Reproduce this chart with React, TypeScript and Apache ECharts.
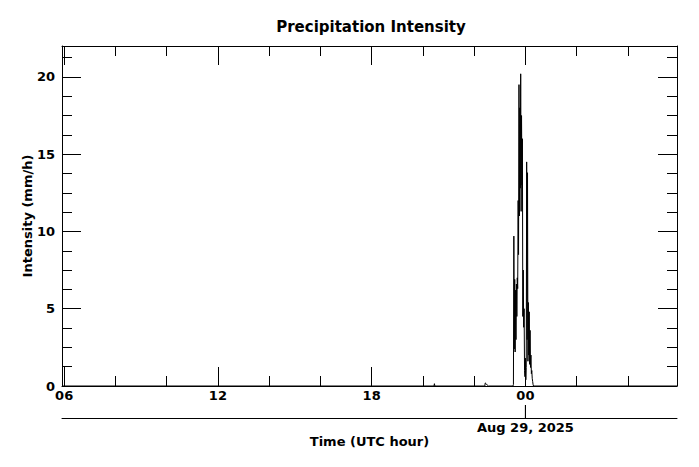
import { useEffect, useRef } from 'react';
import * as echarts from 'echarts';

const FONT = 'DejaVu Sans';

// window shown: 24 h ending at 05:55 UTC on Aug 29
const dayStart = '2025-08-28T00:00';
const windowStart = '2025-08-28T05:55';
const windowEnd = '2025-08-29T05:55';

// tick positions in hours since 00 UTC Aug 28
const majorHours = [6, 12, 18, 24];
const minorHours = [8, 10, 14, 16, 20, 22, 26, 28];
const dateTickHours = [24];
const dateLabel = 'Aug 29, 2025';

// 1-minute precipitation intensity (mm/h); minutes not listed are 0
const sampleTimes = [
  '2025-08-28T05:55',
  '2025-08-28T20:26', '2025-08-28T20:27', '2025-08-28T20:28',
  '2025-08-28T22:25', '2025-08-28T22:26', '2025-08-28T22:28', '2025-08-28T22:31', '2025-08-28T22:33',
  '2025-08-28T23:31', '2025-08-28T23:32', '2025-08-28T23:33', '2025-08-28T23:34', '2025-08-28T23:35',
  '2025-08-28T23:36', '2025-08-28T23:37', '2025-08-28T23:38', '2025-08-28T23:39', '2025-08-28T23:40',
  '2025-08-28T23:41', '2025-08-28T23:42', '2025-08-28T23:43', '2025-08-28T23:44', '2025-08-28T23:45',
  '2025-08-28T23:46', '2025-08-28T23:47', '2025-08-28T23:48', '2025-08-28T23:49', '2025-08-28T23:50',
  '2025-08-28T23:51', '2025-08-28T23:52', '2025-08-28T23:53', '2025-08-28T23:54', '2025-08-28T23:55',
  '2025-08-28T23:56', '2025-08-28T23:57', '2025-08-28T23:58', '2025-08-28T23:59', '2025-08-29T00:00',
  '2025-08-29T00:01', '2025-08-29T00:02', '2025-08-29T00:03', '2025-08-29T00:04', '2025-08-29T00:05',
  '2025-08-29T00:06', '2025-08-29T00:07', '2025-08-29T00:08', '2025-08-29T00:09', '2025-08-29T00:10',
  '2025-08-29T00:11', '2025-08-29T00:12', '2025-08-29T00:13', '2025-08-29T00:14', '2025-08-29T00:15',
  '2025-08-29T00:16', '2025-08-29T00:17', '2025-08-29T00:18', '2025-08-29T00:19',
  '2025-08-29T05:55',
];
const sampleValues = [
  0,
  0, 0.15, 0,
  0, 0.2, 0.15, 0.05, 0,
  0, 0.1, 9.7, 2.4, 6.9,
  2.2, 6.2, 3.0, 6.6, 4.5,
  7.0, 6.3, 12.0, 8.5, 19.5,
  11.0, 18.0, 12.8, 20.2, 11.3,
  17.5, 13.0, 16.0, 4.5, 7.5,
  3.8, 5.0, 1.0, 0.6, 1.8,
  0.4, 1.2, 14.5, 3.0, 13.8,
  1.6, 5.4, 2.0, 4.8, 1.4,
  3.6, 1.2, 2.0, 0.8, 1.0,
  0.5, 0.3, 0.1, 0,
  0,
];

const toHours = (t: string) => (Date.parse(t + ':00Z') - Date.parse(dayStart + ':00Z')) / 3.6e6;
const xMin = toHours(windowStart);
const xMax = toHours(windowEnd);

const black = '#000';
const labelFont = { fontFamily: FONT, fontWeight: 'bold' as const, fontSize: 13, color: black };
const gridRect = { left: 62, right: 22, top: 46, bottom: 81, outerBoundsMode: 'none' };
// thin strip under the plot holding the date axis (line at y = 418)
const dateRect = { left: 62, right: 22, top: 405, bottom: 49, outerBoundsMode: 'none' };

function tickX(gridIndex: number, position: 'top' | 'bottom', values: number[], length: number, line: boolean, labels: boolean) {
  return {
    type: 'value' as const,
    gridIndex,
    position,
    min: xMin,
    max: xMax,
    axisLine: { show: line, onZero: false, lineStyle: { color: black, width: 1 } },
    axisTick: { show: true, inside: true, length, customValues: values, lineStyle: { color: black, width: 1 } },
    axisLabel: labels
      ? { show: true, customValues: values, margin: 3, ...labelFont, formatter: (v: number) => String(Math.round(v) % 24).padStart(2, '0') }
      : { show: false },
    splitLine: { show: false },
  };
}

function tickY(gridIndex: number, position: 'left' | 'right', interval: number, length: number, line: boolean, labels: boolean) {
  return {
    type: 'value' as const,
    gridIndex,
    position,
    min: 0,
    max: 22,
    interval,
    axisLine: { show: line, onZero: false, lineStyle: { color: black, width: 1 } },
    axisTick: { show: true, inside: true, length, lineStyle: { color: black, width: 1 } },
    axisLabel: labels ? { show: true, margin: 7, showMaxLabel: false, ...labelFont } : { show: false },
    splitLine: { show: false },
  };
}

export default function App() {
  const ref = useRef<HTMLDivElement | null>(null);
  useEffect(() => {
    if (!ref.current) return;
    const chart = echarts.init(ref.current, undefined, { renderer: 'svg' });
    const data = sampleTimes.map((t, i) => [toHours(t), sampleValues[i]]);
    // date-change marker: a vertical stroke across the date strip at each day boundary
    const dateMarks = dateTickHours.flatMap((h) => [[h, 0], [h, 1]]);
    chart.setOption({
      animation: false,
      backgroundColor: '#fff',
      textStyle: { fontFamily: FONT },
      title: {
        text: 'Precipitation Intensity',
        left: 371,
        top: 19,
        padding: 0,
        textAlign: 'center',
        textStyle: { fontFamily: FONT, fontWeight: 'bold', fontSize: 15, color: black },
      },
      grid: [{ ...gridRect }, { ...gridRect }, { ...dateRect }],
      xAxis: [
        tickX(0, 'bottom', majorHours, 19, true, true),
        tickX(0, 'top', majorHours, 19, true, false),
        tickX(1, 'bottom', minorHours, 10, false, false),
        tickX(1, 'top', minorHours, 10, false, false),
        {
          type: 'value',
          gridIndex: 2,
          position: 'bottom',
          min: xMin,
          max: xMax,
          axisLine: { show: true, onZero: false, lineStyle: { color: black, width: 1 } },
          axisTick: { show: true, inside: true, length: 13, customValues: dateTickHours, lineStyle: { color: black, width: 1 } },
          axisLabel: { show: true, customValues: dateTickHours, margin: 3, ...labelFont, formatter: () => dateLabel },
          splitLine: { show: false },
          name: 'Time (UTC hour)',
          nameLocation: 'middle',
          nameGap: 17,
          nameMoveOverlap: false,
          nameTextStyle: labelFont,
        },
      ],
      yAxis: [
        {
          ...tickY(0, 'left', 5, 19, true, true),
          name: 'Intensity (mm/h)',
          nameLocation: 'middle',
          nameGap: 28,
          nameMoveOverlap: false,
          nameTextStyle: labelFont,
        },
        tickY(0, 'right', 5, 19, true, false),
        tickY(1, 'left', 1.25, 10, false, false),
        tickY(1, 'right', 1.25, 10, false, false),
        {
          type: 'value', gridIndex: 2, min: 0, max: 1,
          axisLine: { show: false, onZero: false },
          axisTick: { show: false }, axisLabel: { show: false }, splitLine: { show: false },
        },
      ],
      series: [
        {
          type: 'line',
          xAxisIndex: 0,
          yAxisIndex: 0,
          data,
          showSymbol: false,
          symbol: 'none',
          lineStyle: { color: black, width: 1 },
          silent: true,
        },
        {
          type: 'line',
          xAxisIndex: 4,
          yAxisIndex: 4,
          data: dateMarks,
          showSymbol: false,
          symbol: 'none',
          lineStyle: { color: black, width: 1 },
          silent: true,
        },
      ],
    });
    return () => chart.dispose();
  }, []);
  return <div ref={ref} style={{ position: 'absolute', left: 0, top: 0, width: 699, height: 467 }} />;
}
